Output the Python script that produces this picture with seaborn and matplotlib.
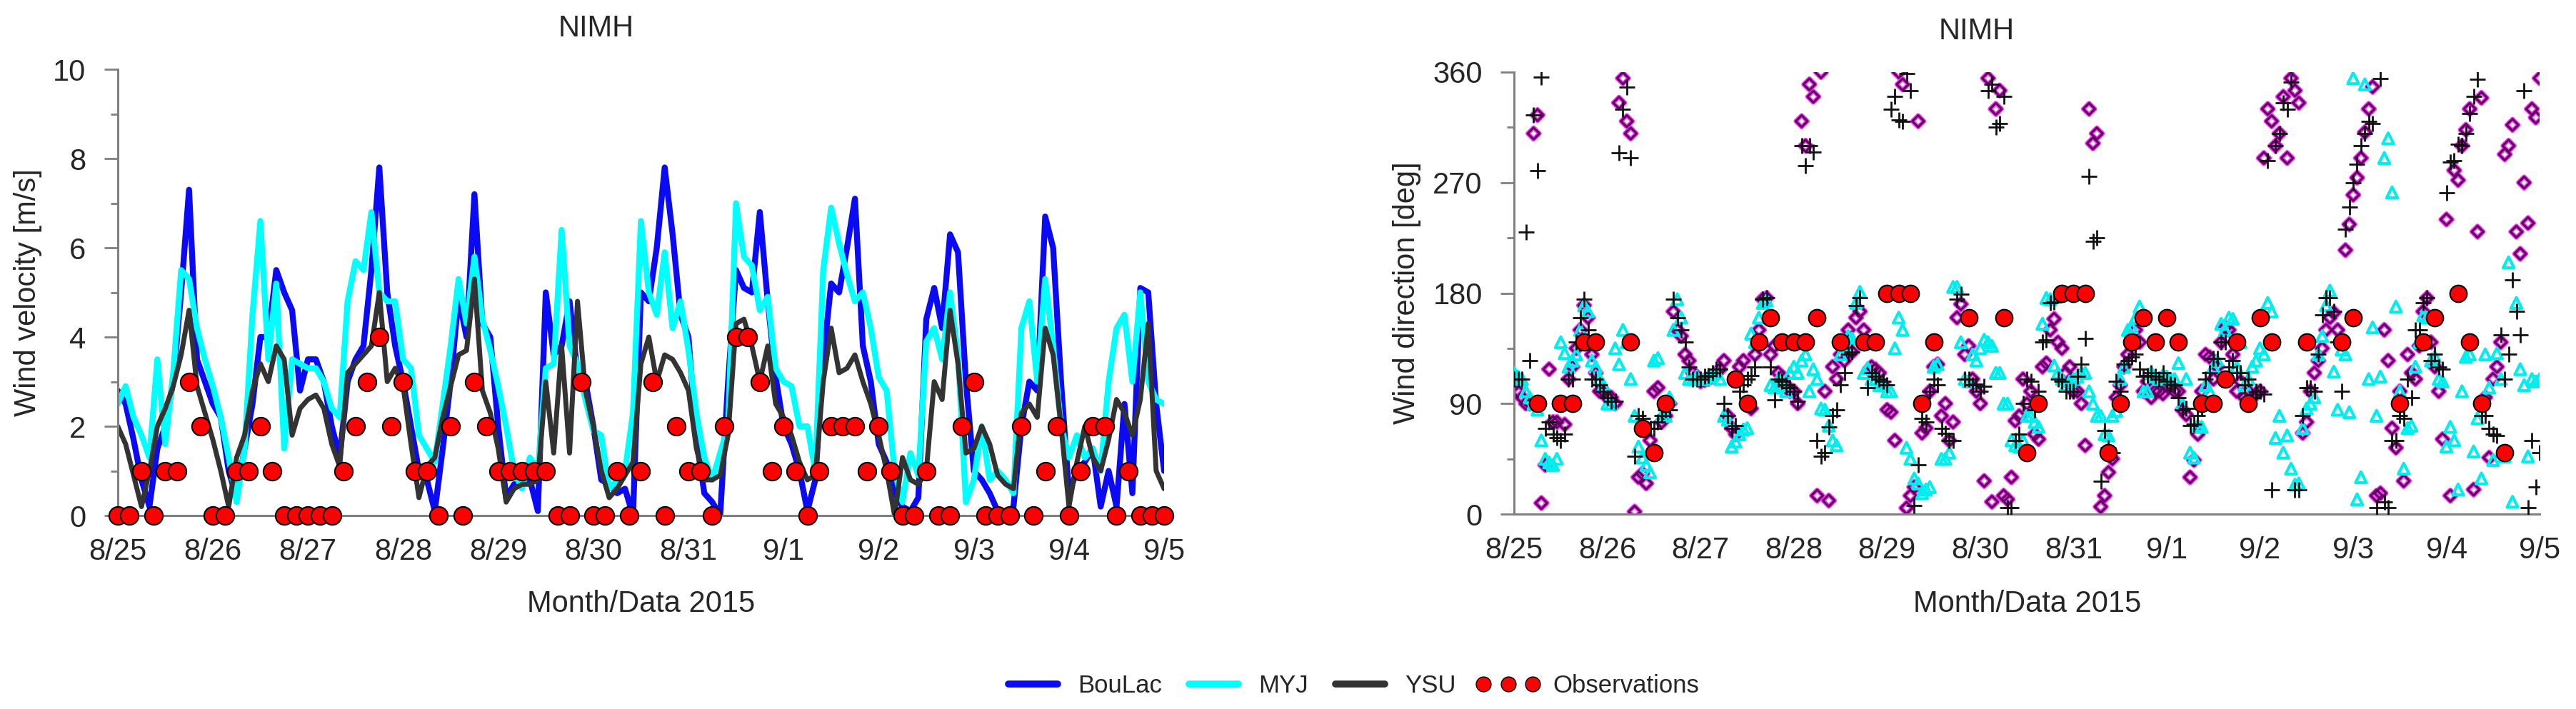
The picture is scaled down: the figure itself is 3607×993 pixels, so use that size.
import numpy as np
import pandas as pd
import seaborn as sns
import matplotlib.pyplot as plt
from matplotlib.ticker import MultipleLocator
from matplotlib.lines import Line2D

# ---- data ----
day_labels = ['8/25', '8/26', '8/27', '8/28', '8/29', '8/30', '8/31',
              '9/1', '9/2', '9/3', '9/4', '9/5']
hours = np.arange(0, 265, 2)        # even model hours
hours_odd = np.arange(1, 264, 2)    # odd model hours (direction panel)
obs_hours = np.arange(0, 265, 3)    # 3-hourly observations

speed_boulac = [2.8, 2.5, 1.7, 0.8, 0.2, 1.5, 2.0, 3.0, 5.0, 7.3, 3.5, 3.0,
                2.5, 2.2, 1.0, 0.4, 1.5, 2.5, 4.0, 4.0, 5.5, 5.0, 4.6, 2.8,
                3.5, 3.5, 3.0, 2.0, 1.3, 3.0, 3.5, 3.8, 5.5, 7.8, 5.0, 3.8,
                3.0, 2.0, 1.0, 0.8, 0.1, 1.5, 3.0, 4.9, 4.0, 7.2, 4.3, 4.0,
                2.0, 0.4, 0.7, 0.7, 0.8, 0.1, 5.0, 3.6, 3.8, 4.8, 3.2, 3.0,
                2.0, 0.8, 0.7, 0.5, 0.6, 0.0, 5.0, 4.8, 6.0, 7.8, 6.3, 4.5,
                4.0, 1.7, 0.5, 0.3, 0.0, 3.0, 5.5, 5.1, 5.0, 6.8, 4.8, 3.1,
                2.0, 1.6, 1.0, 0.1, 0.8, 3.5, 5.2, 5.0, 6.0, 7.1, 3.8, 3.0,
                1.6, 1.2, 0.5, 0.2, 0.1, 0.4, 4.4, 5.1, 4.2, 6.3, 5.9, 3.0,
                1.0, 0.8, 0.5, 0.1, 0.0, 0.2, 2.0, 3.0, 2.8, 6.7, 6.0, 3.0,
                0.5, 1.0, 1.2, 1.5, 0.2, 1.0, 0.2, 2.5, 0.5, 5.1, 5.0, 2.5,
                1.0]
speed_myj = [2.5, 2.9, 2.2, 1.8, 1.3, 3.5, 1.6, 3.2, 5.5, 5.3, 4.2, 3.5,
             2.9, 2.2, 1.3, 0.3, 1.5, 4.5, 6.6, 3.5, 5.2, 1.5, 3.5, 3.4,
             3.3, 3.3, 3.0, 2.4, 2.2, 4.8, 5.7, 5.5, 6.8, 5.0, 4.8, 4.8,
             3.5, 3.3, 1.8, 1.5, 1.2, 2.5, 3.8, 5.3, 4.3, 5.8, 4.4, 3.7,
             2.9, 2.0, 1.0, 0.6, 1.3, 1.0, 3.3, 3.4, 6.4, 3.8, 3.4, 2.6,
             1.9, 1.8, 0.6, 0.8, 1.0, 2.3, 6.6, 5.0, 4.5, 5.9, 4.2, 4.8,
             3.7, 2.3, 1.3, 0.8, 1.4, 2.0, 7.0, 5.8, 5.6, 4.6, 4.9, 3.3,
             3.0, 2.9, 2.0, 2.0, 1.0, 5.5, 6.9, 6.1, 5.4, 4.8, 5.0, 4.2,
             3.1, 2.8, 1.0, 0.3, 1.4, 0.9, 3.9, 4.2, 3.5, 5.0, 3.6, 0.3,
             0.8, 2.0, 0.8, 1.0, 0.8, 0.5, 4.2, 4.8, 3.0, 5.3, 3.8, 2.0,
             1.3, 1.8, 1.3, 1.5, 1.0, 3.0, 4.2, 4.5, 3.0, 5.0, 3.0, 2.6,
             2.5]
speed_ysu = [2.0, 1.6, 0.9, 0.2, 1.0, 2.0, 2.4, 2.9, 3.6, 4.6, 2.9, 2.3,
             1.7, 1.0, 0.2, 1.3, 1.8, 2.8, 3.4, 3.0, 3.8, 3.5, 1.8, 2.4,
             2.6, 2.7, 2.4, 1.6, 1.1, 3.2, 3.4, 3.6, 3.8, 5.0, 3.0, 3.3,
             2.9, 1.6, 0.4, 1.1, 1.3, 2.2, 2.9, 3.6, 3.7, 5.3, 2.8, 2.3,
             1.5, 0.3, 0.6, 0.7, 0.7, 0.8, 3.0, 1.4, 3.8, 1.4, 4.8, 2.8,
             2.0, 1.0, 0.4, 0.6, 0.9, 1.2, 3.4, 4.0, 3.0, 3.6, 3.5, 3.2,
             2.8, 1.5, 0.8, 0.8, 0.9, 1.8, 4.3, 4.4, 3.8, 3.0, 3.8, 2.5,
             2.2, 1.8, 1.2, 0.8, 0.9, 3.0, 4.2, 3.2, 3.3, 3.6, 3.0, 2.5,
             1.8, 1.0, 0.0, 1.3, 0.8, 0.7, 1.0, 3.0, 2.6, 4.6, 3.4, 1.4,
             1.5, 2.0, 1.6, 0.9, 0.7, 0.6, 2.3, 2.5, 2.2, 4.2, 3.6, 2.0,
             0.2, 1.2, 2.0, 1.3, 1.0, 1.7, 2.6, 2.3, 1.8, 2.6, 4.3, 1.0,
             0.6]
obs_speed = [0, 0, 1, 0, 1, 1, 3, 2,
             0, 0, 1, 1, 2, 1, 0, 0,
             0, 0, 0, 1, 2, 3, 4, 2,
             3, 1, 1, 0, 2, 0, 3, 2,
             1, 1, 1, 1, 1, 0, 0, 3,
             0, 0, 1, 0, 1, 3, 0, 2,
             1, 1, 0, 2, 4, 4, 3, 1,
             2, 1, 0, 1, 2, 2, 2, 1,
             2, 1, 0, 0, 1, 0, 0, 2,
             3, 0, 0, 0, 2, 0, 1, 2,
             0, 1, 2, 2, 0, 1, 0, 0,
             0]

nan = np.nan
# wind direction, even hours
dir_boulac = [105, 95, 90, 325, 40, 75, 90, 110, 135, 170, 130, 100,
              95, 90, 355, 310, 30, 25, 100, 75, 90, 150, 130, 115,
              108, 110, 115, 125, 70, 120, 90, 130, 175, 130, 115, 105,
              100, 320, 350, 15, 100, 120, 130, 150, 160, 150, 120, 115,
              85, 60, 350, 15, 320, 70, 120, 80, 60, 160, 130, 110,
              90, 355, 330, 15, 30, 80, 90, 65, 120, 150, 140, 115,
              100, 90, 330, 310, 15, 45, 105, 130, 150, 100, 95, 100,
              105, 100, 85, 30, 65, 130, 110, 140, 150, 100, 95, 95,
              100, 330, 300, 340, 355, 335, 75, 115, 135, 160, 150, 215,
              260, 290, 330, 15, 150, 70, 100, 130, 110, 165, 140, 100,
              240, 280, 300, 330, 230, 95, 110, 140, 300, 230, 270, 330,
              355]
dir_myj = [115, 110, 95, 85, 45, 40, 140, 120, 130, 170, 125, 110,
           90, 135, 150, 110, 55, 40, 125, 80, 95, 175, 115, 110,
           110, 112, 115, 80, 55, 65, 70, 140, 172, 105, 110, 100,
           120, 125, 100, 110, 85, 60, 130, 145, 172, 115, 110, 105,
           100, 135, 150, 45, 25, 20, 120, 45, 50, 185, 110, 130,
           135, 140, 115, 90, 60, 55, 80, 75, 155, 175, 115, 105,
           110, 115, 100, 80, 65, 80, 110, 150, 160, 100, 115, 110,
           112, 110, 90, 50, 72, 105, 120, 155, 160, 120, 105, 120,
           135, 172, 62, 50, 37, 25, 86, 95, 145, 182, 85, 130,
           355, 30, 110, 80, 290, 262, 100, 70, 120, 162, 125, 110,
           55, 60, 100, 130, 78, 130, 44, 110, 205, 172, 105, 110,
           110]
dir_ysu = [110, 110, 125, 280, 70, 65, 60, 110, 140, 175, 110, 105,
           95, 92, 330, 290, 80, 70, 70, 80, 85, 160, 140, 110,
           110, 113, 118, 90, 70, 100, 110, 120, 175, 120, 110, 105,
           100, 300, 300, 60, 50, 80, 105, 130, 170, 140, 115, 110,
           105, 340, 320, 345, 40, 75, 110, 70, 60, 175, 110, 105,
           100, 345, 315, 340, 5, 65, 110, 85, 140, 172, 110, 100,
           100, 122, 275, 225, 68, 50, 100, 125, 130, 112, 115, 110,
           108, 105, 85, 72, 80, 110, 127, 140, 120, 115, 105, 95,
           100, 288, 300, 335, 352, 20, 103, 100, 162, 176, 140, 232,
           270, 300, 320, 5, 10, 60, 80, 110, 150, 172, 125, 120,
           262, 288, 300, 326, 354, 80, 65, 146, 130, 165, 345, 60,
           50]
# wind direction, odd hours
dir_boulac_odd = [100, 90, 310, 9, 118, 75, 73, 120, 150, 160, 115, 100,
                  95, 335, 320, 2, 33, 60, 103, 80, 165, 145, 125, 112,
                  109, 112, 118, 80, 65, 125, 86, 150, 176, 137, 112, 100,
                  90, 300, 340, 360, 11, 110, 125, 132, 165, 140, 118, 105,
                  83, 360, 5, 22, 66, 100, 122, 90, 75, 171, 137, 100,
                  27, 10, 345, 12, 76, 110, 100, 61, 123, 159, 135, 120,
                  100, 56, 302, 6, 34, 95, 120, 140, 140, 108, 100, 98,
                  105, 100, 81, 44, 100, 128, 120, 152, 130, 108, 100, 98,
                  290, 320, 310, 290, 345, 66, 100, 125, 150, 164, 140, 236,
                  274, 311, 348, 17, 125, 54, 27, 115, 137, 176, 120, 61,
                  15, 272, 313, 20, 339, 46, 120, 293, 317, 212, 237, 323]
dir_myj_odd = [112, 100, 90, 60, 42, 45, 131, 125, 150, 165, 120, 105,
               90, 122, 140, 80, 46, 34, 127, 80, 150, 160, 110, 112,
               110, 113, 110, 77, 59, 69, 147, 160, 174, 103, 105, 115,
               115, 130, 118, 86, 72, 56, 137, 143, 181, 119, 110, 107,
               100, 160, 54, 29, 17, 22, 122, 45, 185, 140, 108, 125,
               142, 137, 115, 90, 56, 60, 80, 71, 176, 121, 110, 108,
               112, 115, 90, 80, 64, 84, 120, 152, 169, 100, 112, 113,
               110, 123, 110, 46, 71, 100, 125, 150, 159, 140, 110, 125,
               130, 165, 80, 64, 24, 70, 90, 130, 170, 116, 134, 83,
               12, 350, 152, 112, 306, 169, 37, 72, 140, 160, 128, 108,
               71, 20, 128, 51, 29, 103, 131, 47, 10, 118, 47, 108]
dir_ysu_odd = [110, 230, 325, 356, 75, 62, 65, 110, 160, 150, 110, 100,
               92, 294, 348, 47, 78, 70, 75, 85, 175, 150, 120, 110,
               112, 115, 118, 80, 72, 105, 113, 140, 176, 93, 108, 103,
               92, 284, 295, 47, 71, 85, 115, 132, 176, 103, 112, 108,
               330, 321, 359, 7, 78, 100, 105, 66, 60, 179, 110, 106,
               104, 350, 318, 5, 60, 90, 108, 100, 142, 173, 108, 100,
               112, 143, 222, 27, 54, 108, 122, 128, 118, 113, 112, 115,
               106, 95, 86, 73, 86, 115, 127, 140, 125, 115, 110, 100,
               98, 20, 310, 330, 20, 80, 103, 130, 176, 165, 100, 250,
               285, 310, 318, 355, 5, 60, 78, 95, 150, 176, 130, 118,
               287, 301, 310, 340, 80, 70, 64, 110, 191, 146, 5, 22]
obs_dir = [nan, nan, 90, nan, 90, 90, 140, 140,
           nan, nan, 140, 70, 50, 90, nan, nan,
           nan, nan, nan, 110, 90, 140, 160, 140,
           140, 140, 160, nan, 140, nan, 140, 140,
           180, 180, 180, 90, 140, nan, nan, 160,
           nan, nan, 160, nan, 50, 90, nan, 180,
           180, 180, nan, 50, 90, 140, 160, 140,
           160, 140, nan, 90, 90, 110, 140, 90,
           160, 140, nan, nan, 140, nan, nan, 140,
           160, nan, nan, nan, 90, nan, 140, 160,
           nan, 180, 140, 90, nan, 50, nan, nan,
           nan]

speed = pd.DataFrame({'hour': hours, 'BouLac': speed_boulac,
                      'MYJ': speed_myj, 'YSU': speed_ysu})
direction = pd.concat([
    pd.DataFrame({'hour': hours, 'BouLac': dir_boulac,
                  'MYJ': dir_myj, 'YSU': dir_ysu}),
    pd.DataFrame({'hour': hours_odd, 'BouLac': dir_boulac_odd,
                  'MYJ': dir_myj_odd, 'YSU': dir_ysu_odd}),
], ignore_index=True).sort_values('hour')
obs = pd.DataFrame({'hour': obs_hours, 'speed': obs_speed, 'dir': obs_dir})

BLUE = '#0a0af5'
CYAN = '#00ffff'
DARK = '#333333'
GRID = '#808080'

sns.set_theme(style='white')
plt.rcParams['font.family'] = ['Liberation Sans', 'DejaVu Sans']

fig = plt.figure(figsize=(36.07, 9.93), dpi=100)
ax1 = fig.add_axes([0.0457, 0.2729, 0.4062, 0.6294])
ax2 = fig.add_axes([0.5878, 0.2749, 0.3981, 0.6234])

# ---- left: wind velocity ----
sns.lineplot(data=speed, x='hour', y='BouLac', color=BLUE, lw=6, ax=ax1)
sns.lineplot(data=speed, x='hour', y='MYJ', color=CYAN, lw=6, ax=ax1)
sns.lineplot(data=speed, x='hour', y='YSU', color=DARK, lw=5, ax=ax1)
sns.scatterplot(data=obs, x='hour', y='speed', ax=ax1, s=330, color='#ff0000',
                edgecolor='black', linewidth=1.5, zorder=5, clip_on=False)

# ---- right: wind direction ----
sns.scatterplot(data=direction, x='hour', y='BouLac', ax=ax2, marker='D', s=70,
                facecolor='none', edgecolor='#ff33ff', linewidth=4.5, zorder=2)
sns.scatterplot(data=direction, x='hour', y='BouLac', ax=ax2, marker='D', s=70,
                facecolor='none', edgecolor='#5c005c', linewidth=2.2, zorder=2)
sns.scatterplot(data=direction, x='hour', y='MYJ', ax=ax2, marker='^', s=120,
                facecolor='none', edgecolor='#00eeee', linewidth=3, zorder=3)
sns.scatterplot(data=direction, x='hour', y='YSU', ax=ax2, marker='+', s=260,
                color='#111111', linewidth=2, zorder=4)
sns.scatterplot(data=obs, x='hour', y='dir', ax=ax2, s=290, color='#ff0000',
                edgecolor='black', linewidth=1.5, zorder=5, clip_on=False)

for ax, ymax, major, minor in [(ax1, 10, 2, 1), (ax2, 360, 90, 45)]:
    ax.set_xlim(0, 264)
    ax.set_ylim(0, ymax)
    ax.set_xticks(np.arange(0, 265, 24))
    ax.set_xticklabels(day_labels)
    ax.yaxis.set_major_locator(MultipleLocator(major))
    ax.yaxis.set_minor_locator(MultipleLocator(minor))
    ax.tick_params(axis='y', which='major', direction='out', length=14,
                   width=2, color=GRID, pad=18, labelsize=30, left=True)
    ax.tick_params(axis='y', which='minor', direction='out', length=7,
                   width=2, color=GRID, left=True)
    ax.tick_params(axis='x', length=0, pad=22, labelsize=30)
    for side in ['top', 'right']:
        ax.spines[side].set_visible(False)
    for side in ['left', 'bottom']:
        ax.spines[side].set_color(GRID)
        ax.spines[side].set_linewidth(2.2)
    ax.set_xlabel('Month/Data 2015', fontsize=30)
    ax.set_title('NIMH', fontsize=30, pad=33)

ax1.title.set_x(0.457)
ax2.title.set_x(0.451)
ax1.set_ylabel('Wind velocity [m/s]', fontsize=30)
ax2.set_ylabel('Wind direction [deg]', fontsize=30)
ax1.yaxis.set_label_coords(-0.072, 0.5)
ax2.yaxis.set_label_coords(-0.091, 0.5)
ax1.xaxis.set_label_coords(0.5, -0.166)
ax2.xaxis.set_label_coords(0.5, -0.171)

handles = [Line2D([], [], color=BLUE, lw=7),
           Line2D([], [], color=CYAN, lw=7),
           Line2D([], [], color=DARK, lw=7),
           Line2D([], [], ls='none', marker='o', markersize=15,
                  markerfacecolor='#ff0000', markeredgecolor='black')]
fig.legend(handles, ['BouLac', 'MYJ', 'YSU', 'Observations'], loc='center',
           bbox_to_anchor=(0.524, 0.033), ncol=4, frameon=False, fontsize=25,
           handlelength=2.6, handletextpad=0.5, columnspacing=0.8, numpoints=3)

fig.savefig('out.png', dpi=100)
